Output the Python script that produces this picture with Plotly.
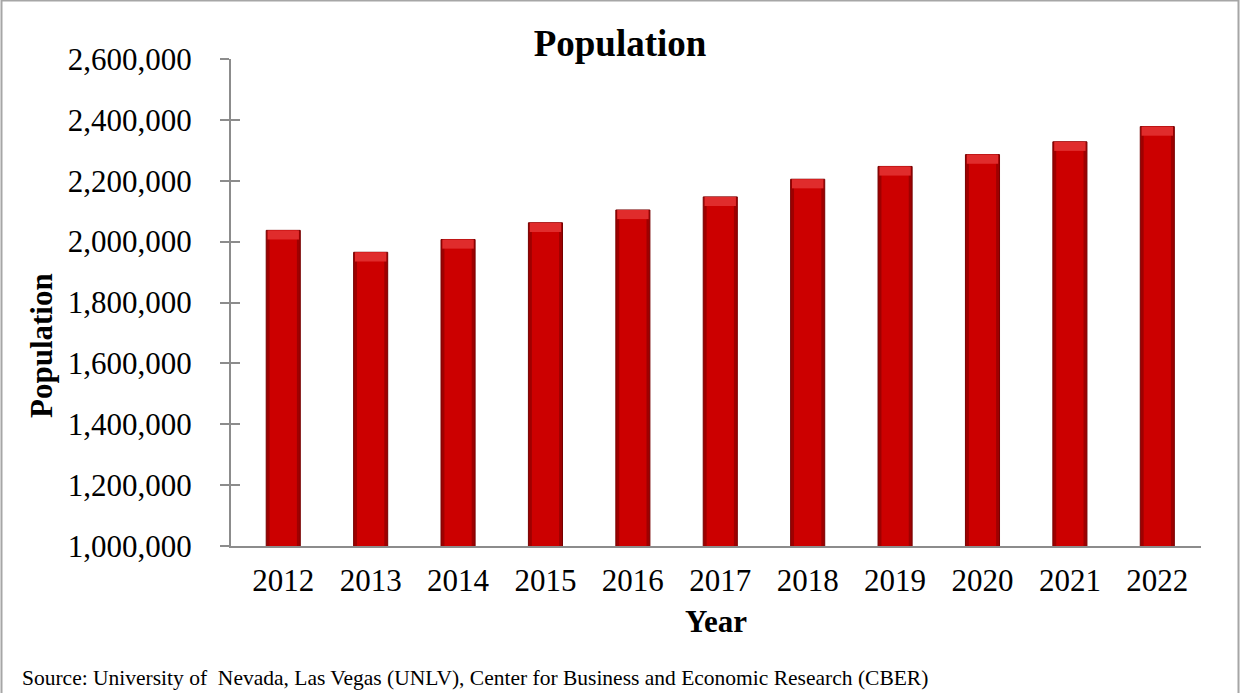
import plotly.graph_objects as go

# Annual population figures
years = ["2012", "2013", "2014", "2015", "2016", "2017", "2018", "2019", "2020", "2021", "2022"]
population = [2037000, 1965000, 2007000, 2062000, 2104000, 2147000, 2205000, 2247000, 2286000, 2328000, 2378000]

y_ticks = [1000000, 1200000, 1400000, 1600000, 1800000, 2000000, 2200000, 2400000, 2600000]
y_range = [1000000, 2600000]

title_text = "Population"
x_title = "Year"
y_title = "Population"
source_text = "Source: University of  Nevada, Las Vegas (UNLV), Center for Business and Economic Research (CBER)"

FONT = "Liberation Serif, Times New Roman, serif"
AXIS_GRAY = "#8c8c8c"
BAR_W = 0.39
CAP = 30000  # height of the lighter top bevel, in data units

# plot-area geometry in pixels, used to place paper-referenced text
L, R, T, B = 231, 39, 59, 147
PW, PH = 1240 - L - R, 693 - T - B


def px_x(px):
    return (px - L) / PW


def px_y(py):
    return (693 - B - py) / PH


fig = go.Figure()

# dark outer body of each bar (gives the shaded edges)
fig.add_trace(go.Bar(
    x=years, y=population, width=BAR_W,
    marker=dict(color="#9e0000", line=dict(color="#760000", width=1)),
    hoverinfo="skip", showlegend=False,
))
# brighter centre strip
fig.add_trace(go.Bar(
    x=years, y=population, width=BAR_W * 0.8,
    marker=dict(color="#cc0000", line=dict(width=0)),
    hoverinfo="skip", showlegend=False,
))
# lighter bevel along the top
fig.add_trace(go.Bar(
    x=years, y=[CAP] * len(years), base=[v - CAP for v in population],
    width=BAR_W * 0.92,
    marker=dict(color="#e02c2c", line=dict(width=0)),
    hoverinfo="skip", showlegend=False,
))
# y-axis overlay used for the inward half of the tick marks
fig.add_trace(go.Scatter(x=[years[0]], y=[population[0]], yaxis="y2",
                         mode="markers", marker=dict(opacity=0),
                         hoverinfo="skip", showlegend=False))

fig.update_layout(
    width=1240, height=693,
    barmode="overlay",
    paper_bgcolor="white", plot_bgcolor="white",
    margin=dict(l=L, r=R, t=T, b=B, autoexpand=False),
    font=dict(family=FONT, color="#000000"),
    title=dict(text=f"<b>{title_text}</b>", x=0.5, xanchor="center",
               y=1 - 43 / 693, yanchor="middle",
               font=dict(family=FONT, size=37, color="#000000")),
    xaxis=dict(
        type="category",
        showline=True, linecolor=AXIS_GRAY, linewidth=2,
        ticks="", showgrid=False, zeroline=False,
        tickfont=dict(family=FONT, size=31, color="#000000"),
        ticklabelstandoff=6,
        title=dict(text=f"<b>{x_title}</b>", standoff=13,
                   font=dict(family=FONT, size=31, color="#000000")),
    ),
    yaxis=dict(
        range=y_range, tickvals=y_ticks, tickformat=",d",
        showline=True, linecolor=AXIS_GRAY, linewidth=2,
        ticks="outside", ticklen=9, tickwidth=2, tickcolor=AXIS_GRAY,
        showgrid=False, zeroline=False,
        tickfont=dict(family=FONT, size=31, color="#000000"),
        ticklabelstandoff=22,
    ),
    yaxis2=dict(
        overlaying="y", side="left", range=y_range, tickvals=y_ticks,
        showticklabels=False, ticks="inside", ticklen=9, tickwidth=2,
        tickcolor=AXIS_GRAY, showline=False, showgrid=False, zeroline=False,
    ),
    annotations=[
        dict(
            text=f"<b>{y_title}</b>", xref="paper", yref="paper",
            x=px_x(41), y=px_y(346), textangle=-90,
            xanchor="center", yanchor="middle", showarrow=False,
            font=dict(family=FONT, size=31, color="#000000"),
        ),
        dict(
            text=source_text, xref="paper", yref="paper",
            x=px_x(20), y=px_y(678),
            xanchor="left", yanchor="middle", showarrow=False,
            font=dict(family=FONT, size=21.5, color="#000000"),
        ),
    ],
    shapes=[dict(
        type="rect", xref="paper", yref="paper",
        x0=px_x(1.5), x1=px_x(1238.5),
        y0=px_y(694), y1=px_y(0.5),
        line=dict(color="#a6a6a6", width=2), fillcolor="rgba(0,0,0,0)",
        layer="below",
    )],
)

fig.write_html("out.html")
